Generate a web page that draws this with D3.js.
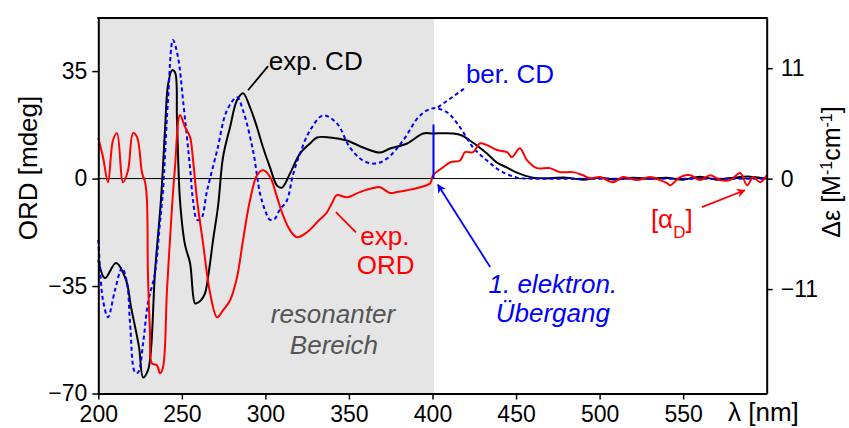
<!DOCTYPE html>
<html lang="de">
<head>
<meta charset="utf-8">
<script src="https://cdn.jsdelivr.net/npm/d3@7"></script>
<style>
  body { margin: 0; background: #fff; }
  text { font-family: "Liberation Sans", Arial, sans-serif; }
</style>
</head>
<body>
<div id="chart"></div>
<script>
// wavelength [nm] / value pairs

// exp. CD, delta epsilon (right axis)
var cdNm  = [200,204,210.6,216.6,219.6,224.4,226.8,229.7,231.5,233.9,237.5,239.9,241.7,244.1,245.9,247.1,248.9,251.9,254.9,257.8,259,261.5,263.9,266.3,268.7,271.7,274.6,278.8,283,286.6,290.8,295,298.6,302.8,307,309.9,314.7,320.7,326.7,330.9,338.7,348.8,358.4,368.6,374.6,384.8,394.4,400.4,412.4,417.6,422.4,426.6,432.6,438.6,444.6,450.5,460.1,470.3,480,490,500,510,520,530,540,550,560,570,580,590,600];
var cdVal = [-8.1,-9.9,-8.4,-10.1,-12.8,-16.8,-19.8,-19.1,-17.1,-9.4,-2.1,4.8,9.3,10.8,10.6,5.8,-2.2,-6.6,-8.4,-12.4,-12.4,-12.1,-11.4,-9.1,-6.1,-2.7,2.1,5.1,7.8,8.5,7.1,5.1,3.1,1.1,-0.7,-0.9,0.5,2.5,3.5,4.1,4.1,3.8,3.1,2.6,3.0,3.5,4.5,4.5,4.5,4.3,3.8,3.3,2.5,1.6,1.1,0.6,0.1,0.05,0.1,-0.1,0.1,-0.1,0.1,0,0.1,-0.1,0.2,-0.1,0.1,0.2,0];

// ber. CD, delta epsilon (right axis)
var berNm  = [200,201,202.8,205.8,210,214.2,217.2,219,222,223.8,226.8,229.7,233.9,236.9,238.7,241.7,244.7,247.7,250.7,254.9,256.7,259.1,261.5,265.1,271.1,277,283,286.6,292.6,296.8,299.7,302.7,305.6,308.6,312.8,316.4,320.7,326.7,334.5,342.8,350.6,358.4,365.6,372.8,382.4,392.6,400.4,408.8,416.5,424.3,432.6,440.4,450.5,460.1,480,500,550,600];
var berVal = [-6.1,-8.8,-12.1,-13.8,-11.1,-8.9,-10.4,-14.4,-19.3,-19.3,-16.4,-12.4,-9.4,-4.4,-1.2,7.8,13.8,12.1,7.8,1.1,-2.2,-4.1,-4.0,-1.2,2.8,6.8,8.1,6.8,2.8,-1.5,-3.1,-4.1,-4.0,-3.1,-2.2,0.3,2.5,4.8,6.3,5.5,3.1,1.8,1.5,2.0,3.8,6.3,7.0,6.6,5.1,3.1,1.8,0.8,0.1,0,0,0,0,0];

// exp. ORD, mdeg (left axis)
var ordNm  = [200,202.8,205.8,208.8,211.2,214.8,217.8,220.8,223.2,226.2,228,229.1,229.7,230.9,232.1,235.1,236.9,238.7,241.1,244.1,245.9,248.9,251.9,254.9,256.7,259.1,262.7,266.9,271.1,274.6,278.8,283,286.6,290.8,295,298.6,302.8,307,310.5,314.7,318.9,324.9,330.9,336.8,339.8,342.8,348.8,356.5,364.4,368.6,374.6,378.8,384.8,392.6,398.6,400.4,406.4,410.5,416.5,419.5,424.3,428.5,432.6,438.6,444.6,447.5,452.3,456.5,462.5,470.3,476.2,484,490,494.2,500.2,508,514,522.4,530.2,536.2,540.4,542.2,548.2,554.2,560.2,566.2,572.2,578.2,584.1,588.3,591.9,596.1,600];
var ordVal = [13.2,7.0,-1.2,12.5,14.8,-1.2,2.7,14.8,13.5,1.8,-1.2,-7.0,-30.8,-49.4,-60.2,-60.8,-63.4,-61.5,-36.4,-9.4,3.7,20.7,16.8,13.5,6.0,-7.0,-21.1,-37.3,-45.2,-42.9,-39.7,-32.2,-20.1,-7.0,1.1,2.7,0.5,-6.1,-11.9,-16.8,-19.1,-17.5,-14.2,-11.0,-8.0,-5.4,-6.1,-4.4,-3.1,-2.8,-4.7,-4.4,-3.8,-2.8,-1.5,1.1,3.7,5.3,5.9,8.6,8.6,11.5,10.9,9.3,8.6,7.0,9.9,6.0,3.4,3.4,2.1,2.1,1.1,0.1,0.5,-1.2,0.5,-0.5,0.5,-0.5,-1.5,-2.2,0.5,1.1,-0.5,1.1,-0.5,-0.5,1.8,-2.2,0.5,-1.2,1.1];

// first electronic transition (stick at 400 nm)
var transNm = 400, transVal = 5.4;

var xTicks  = [200,250,300,350,400,450,500,550];
var yLTicks = [-70,-35,0,35];
var yLMinor = [-52.5,-17.5,17.5];
var yRTicks = [-11,0,11];
var yRMinor = [-16.5,-5.5,5.5];

var width = 849, height = 428;
var mLeft = 98.3, mRight = 766.7, mTop = 18, mBottom = 393.5;

var x  = d3.scaleLinear().domain([200,600]).range([mLeft,mRight]);
var yL = d3.scaleLinear().domain([-70,52.3]).range([mBottom,mTop]);
var yR = d3.scaleLinear().domain([-21.4,16]).range([mBottom,mTop]);

var svg = d3.select("#chart").append("svg")
  .attr("width", width)
  .attr("height", height);

var defs = svg.append("defs");
function marker(id, color) {
  defs.append("marker")
    .attr("id", id)
    .attr("viewBox", "0 0 10 10")
    .attr("refX", 9).attr("refY", 5)
    .attr("markerWidth", 9).attr("markerHeight", 9)
    .attr("markerUnits", "userSpaceOnUse")
    .attr("orient", "auto")
    .append("path")
    .attr("d", "M0,0 L10,5 L0,10 L3,5 Z")
    .attr("fill", color);
}
marker("arrBlue", "#0000ff");
marker("arrRed", "#ff0000");

// resonant region
svg.append("rect")
  .attr("x", x(200)).attr("y", mTop)
  .attr("width", x(400) - x(200) + 1.5).attr("height", mBottom - mTop)
  .attr("fill", "#e5e5e5");

// zero line
svg.append("line")
  .attr("x1", x(200)).attr("x2", x(600))
  .attr("y1", yL(0)).attr("y2", yL(0))
  .attr("stroke", "#000").attr("stroke-width", 1);

function series(nm, val) {
  return nm.map(function(d, i) { return [d, val[i]]; });
}
var lineR = d3.line().x(function(d) { return x(d[0]); }).y(function(d) { return yR(d[1]); })
  .curve(d3.curveCatmullRom.alpha(0.5));
var lineL = d3.line().x(function(d) { return x(d[0]); }).y(function(d) { return yL(d[1]); })
  .curve(d3.curveCatmullRom.alpha(0.5));

svg.append("path")
  .attr("d", lineR(series(cdNm, cdVal)))
  .attr("fill", "none").attr("stroke", "#000").attr("stroke-width", 2);

svg.append("path")
  .attr("d", lineR(series(berNm, berVal)))
  .attr("fill", "none").attr("stroke", "#0000ff").attr("stroke-width", 2)
  .attr("stroke-dasharray", "4,3");

svg.append("path")
  .attr("d", lineL(series(ordNm, ordVal)))
  .attr("fill", "none").attr("stroke", "#ff0000").attr("stroke-width", 2);

// transition stick
svg.append("line")
  .attr("x1", x(transNm) + 1).attr("x2", x(transNm) + 1)
  .attr("y1", yR(0)).attr("y2", yR(transVal))
  .attr("stroke", "#0000ff").attr("stroke-width", 2);

// axes
var gx = svg.append("g").attr("transform", "translate(0," + mBottom + ")");
gx.call(d3.axisBottom(x).tickValues(d3.range(200, 601, 10)).tickSize(3).tickFormat("").tickSizeOuter(0));
gx.call(d3.axisBottom(x).tickValues(xTicks).tickSize(6).tickPadding(6).tickSizeOuter(0));

var gl = svg.append("g").attr("transform", "translate(" + mLeft + ",0)");
gl.call(d3.axisLeft(yL).tickValues(yLMinor).tickSize(4).tickFormat("").tickSizeOuter(0));
gl.call(d3.axisLeft(yL).tickValues(yLTicks).tickSize(6).tickPadding(5).tickSizeOuter(0));

var gr = svg.append("g").attr("transform", "translate(" + mRight + ",0)");
gr.call(d3.axisRight(yR).tickValues(yRMinor).tickSize(4).tickFormat("").tickSizeOuter(0));
gr.call(d3.axisRight(yR).tickValues(yRTicks).tickSize(6).tickPadding(8).tickSizeOuter(0));

svg.selectAll(".domain").attr("stroke-width", 2);
svg.selectAll(".tick line").attr("stroke-width", 1.5);
svg.selectAll(".tick text")
  .attr("font-family", "Liberation Sans, Arial, sans-serif")
  .attr("font-size", 23).attr("fill", "#000");

svg.append("line")
  .attr("x1", mLeft - 1).attr("x2", mRight + 1)
  .attr("y1", mTop).attr("y2", mTop)
  .attr("stroke", "#000").attr("stroke-width", 2);

// axis titles
svg.append("text")
  .attr("transform", "translate(37," + 168 + ") rotate(-90)")
  .attr("text-anchor", "middle").attr("font-size", 26)
  .text("ORD [mdeg]");

var rt = svg.append("text")
  .attr("transform", "translate(840," + 172 + ") rotate(-90)")
  .attr("text-anchor", "middle").attr("font-size", 25);
rt.append("tspan").text("\u0394\u03b5 [M");
rt.append("tspan").attr("baseline-shift", "super").attr("font-size", 16).text("-1");
rt.append("tspan").text("cm");
rt.append("tspan").attr("baseline-shift", "super").attr("font-size", 16).text("-1");
rt.append("tspan").text("]");

svg.append("text")
  .attr("x", 728).attr("y", 421)
  .attr("font-size", 26)
  .text("\u03bb [nm]");

// annotations
function leader(x1, y1, x2, y2, color, dash, mark) {
  var l = svg.append("line")
    .attr("x1", x1).attr("y1", y1).attr("x2", x2).attr("y2", y2)
    .attr("stroke", color).attr("stroke-width", dash ? 2 : 1.8);
  if (dash) l.attr("stroke-dasharray", dash);
  if (mark) l.attr("marker-end", "url(#" + mark + ")");
}

leader(x(289.6), yR(8.8), x(301.6), yR(11.2), "#000");
svg.append("text")
  .attr("x", x(302)).attr("y", yR(10.8))
  .attr("font-size", 26).attr("fill", "#000")
  .text("exp. CD");

leader(x(403.2), yR(7.1), x(419.3), yR(9.0), "#0000ff", "4,3");
svg.append("text")
  .attr("x", x(420)).attr("y", yR(9.5))
  .attr("font-size", 26).attr("fill", "#0000ff")
  .text("ber. CD");

leader(x(342.2), yL(-10.9), x(354.2), yL(-17.5), "#ff0000");
svg.append("text")
  .attr("x", x(371.5)).attr("y", yL(-21.7))
  .attr("text-anchor", "middle").attr("font-size", 26).attr("fill", "#ff0000")
  .text("exp.");
svg.append("text")
  .attr("x", x(372)).attr("y", yL(-31.2))
  .attr("text-anchor", "middle").attr("font-size", 26).attr("fill", "#ff0000")
  .text("ORD");

svg.append("text")
  .attr("x", x(340.4)).attr("y", yL(-47.2))
  .attr("text-anchor", "middle").attr("font-size", 26).attr("font-style", "italic").attr("fill", "#555")
  .text("resonanter");
svg.append("text")
  .attr("x", x(341)).attr("y", yL(-57))
  .attr("text-anchor", "middle").attr("font-size", 26).attr("font-style", "italic").attr("fill", "#555")
  .text("Bereich");

leader(x(434.5), yR(-8.8), x(403.2), yR(-0.6), "#0000ff", null, "arrBlue");
svg.append("text")
  .attr("x", x(472)).attr("y", yL(-37.4))
  .attr("text-anchor", "middle").attr("font-size", 26).attr("font-style", "italic").attr("fill", "#0000ff")
  .text("1. elektron.");
svg.append("text")
  .attr("x", x(472)).attr("y", yL(-46.8))
  .attr("text-anchor", "middle").attr("font-size", 26).attr("font-style", "italic").attr("fill", "#0000ff")
  .text("\u00dcbergang");

leader(x(561.2), yL(-9.3), x(586.9), yL(-3.8), "#ff0000", null, "arrRed");
var ad = svg.append("text")
  .attr("x", x(530.7)).attr("y", yL(-16.2))
  .attr("font-size", 26).attr("fill", "#ff0000");
ad.append("tspan").text("[\u03b1");
ad.append("tspan").attr("baseline-shift", "sub").attr("font-size", 17).text("D");
ad.append("tspan").text("]");
</script>
</body>
</html>
